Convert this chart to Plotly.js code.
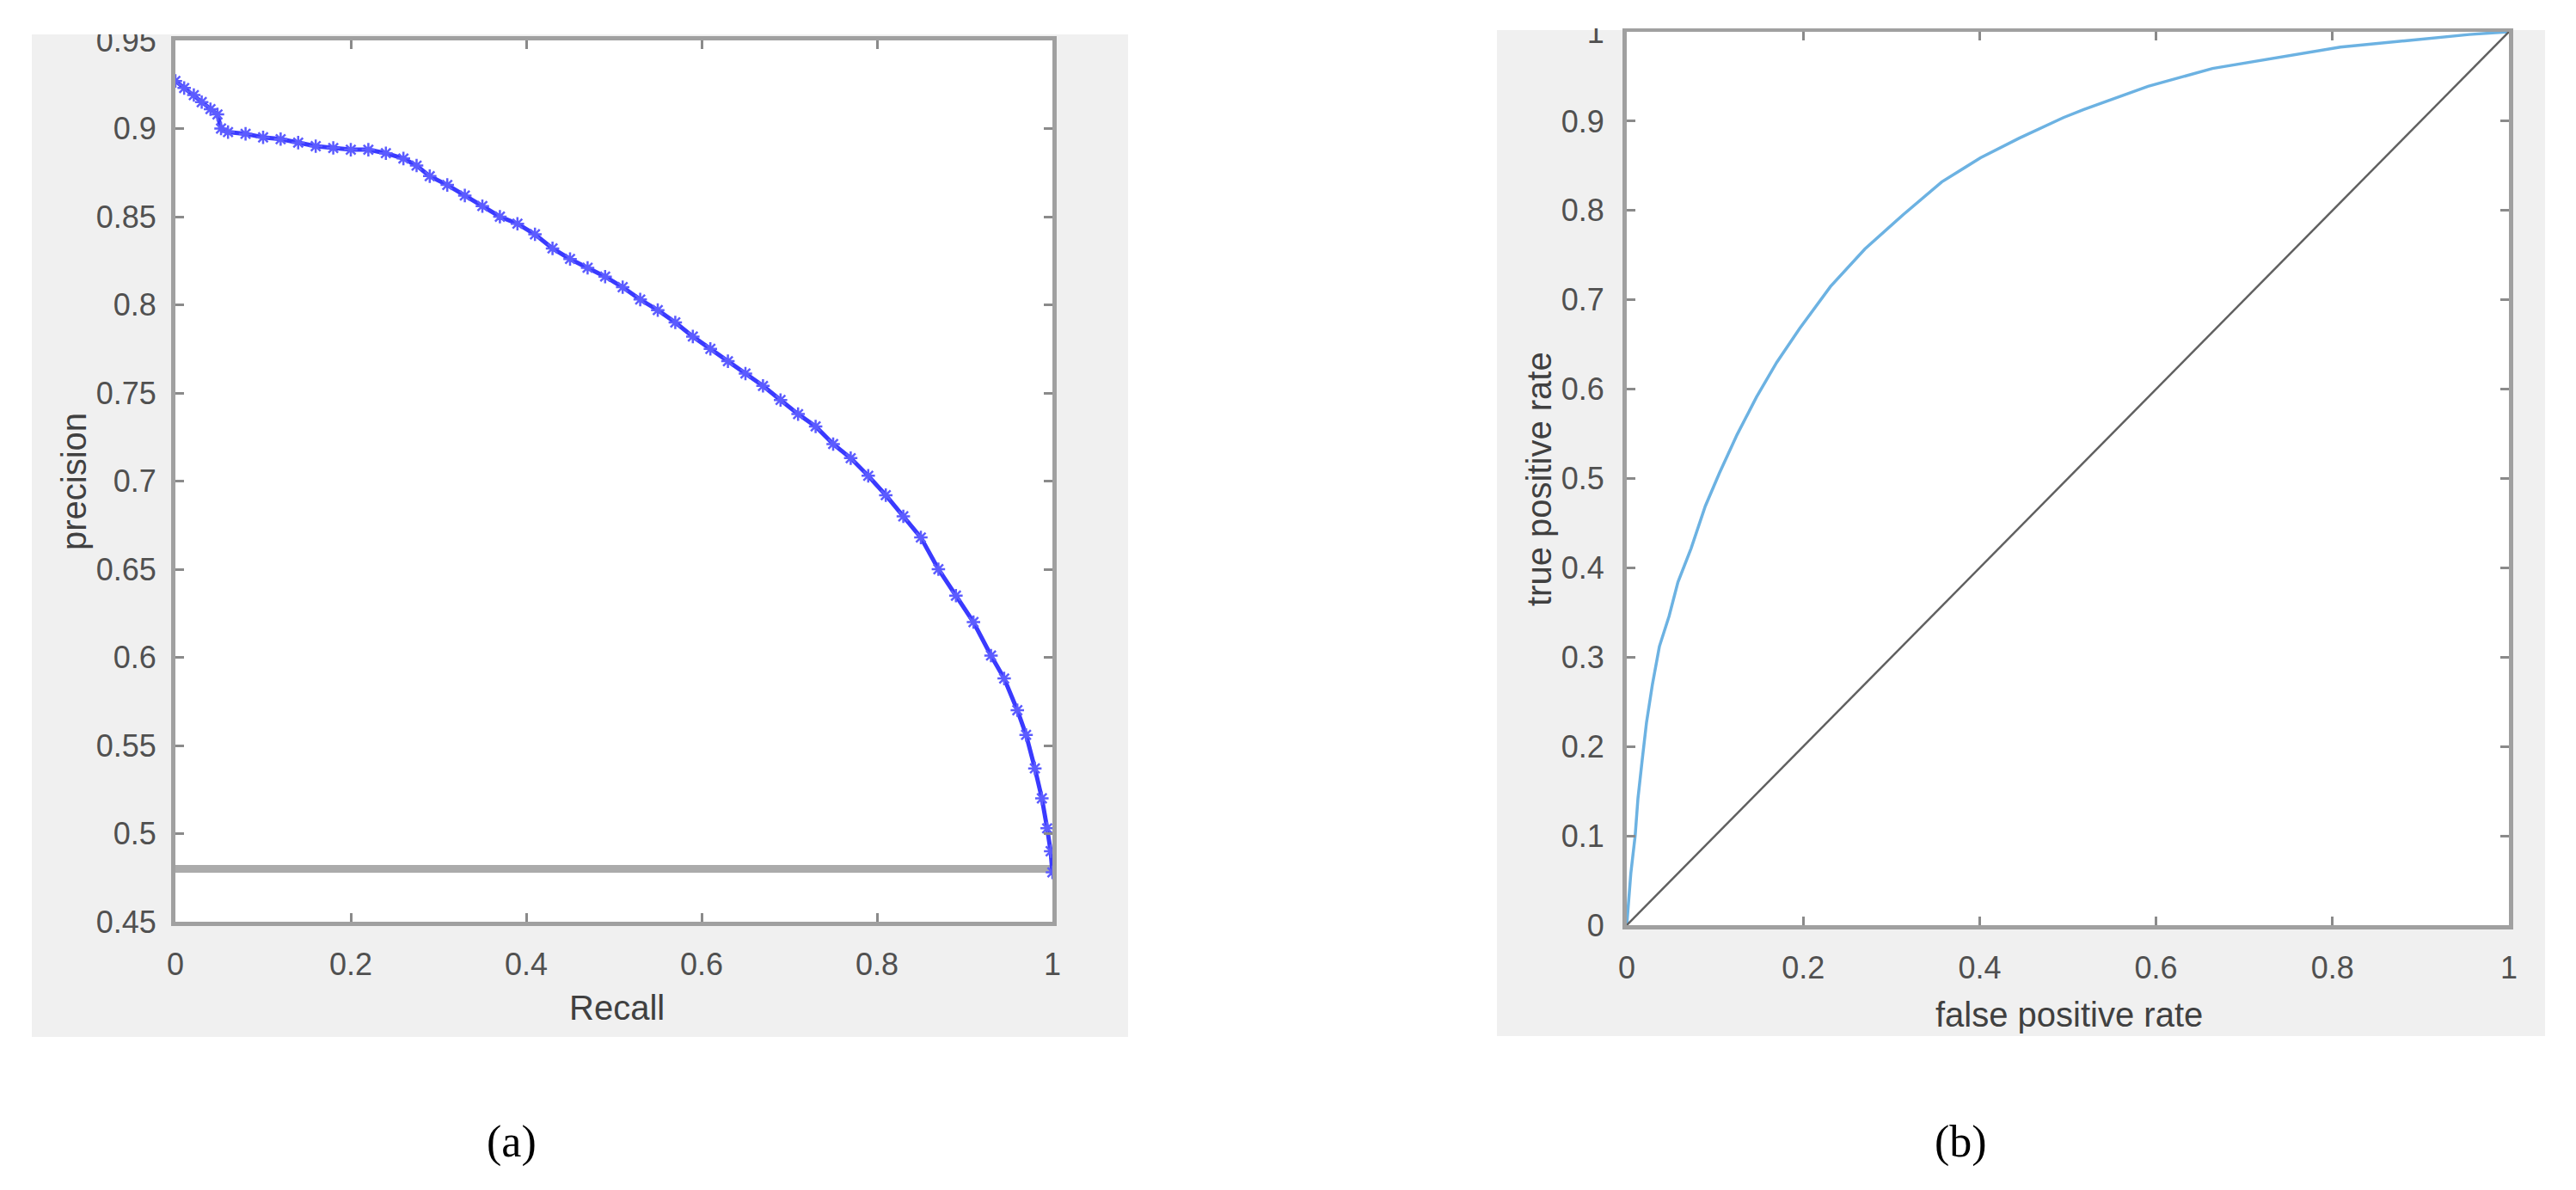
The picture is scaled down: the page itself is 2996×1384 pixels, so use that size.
<!DOCTYPE html>
<html>
<head>
<meta charset="utf-8">
<script src="https://cdn.plot.ly/plotly-3.0.1.min.js"></script>
<style>
  html, body { margin: 0; padding: 0; background: #ffffff; }
  #chart { width: 2996px; height: 1384px; }
</style>
</head>
<body>
<div id="chart"></div>
<script>
// ---------- (a) precision-recall data ----------
const recall = [0.000, 0.010, 0.021, 0.030, 0.040, 0.048, 0.052, 0.060, 0.080, 0.100,
  0.120, 0.140, 0.160, 0.180, 0.200, 0.220, 0.240, 0.260, 0.275, 0.290,
  0.310, 0.330, 0.350, 0.370, 0.390, 0.410, 0.430, 0.450, 0.470, 0.490,
  0.510, 0.530, 0.550, 0.570, 0.590, 0.610, 0.630, 0.650, 0.670, 0.690,
  0.710, 0.730, 0.750, 0.770, 0.790, 0.810, 0.830, 0.850, 0.870, 0.890,
  0.910, 0.930, 0.945, 0.960, 0.970, 0.980, 0.988, 0.994, 0.998, 1.000];
const precision = [0.927, 0.923, 0.919, 0.915, 0.911, 0.908, 0.900, 0.898, 0.897, 0.895,
  0.894, 0.892, 0.890, 0.889, 0.888, 0.888, 0.886, 0.883, 0.879, 0.873,
  0.868, 0.862, 0.856, 0.850, 0.846, 0.840, 0.832, 0.826, 0.821, 0.816,
  0.810, 0.803, 0.797, 0.790, 0.782, 0.775, 0.768, 0.761, 0.754, 0.746,
  0.738, 0.731, 0.721, 0.713, 0.703, 0.692, 0.680, 0.668, 0.650, 0.635,
  0.620, 0.601, 0.588, 0.570, 0.556, 0.537, 0.520, 0.503, 0.490, 0.478];
const baselineRecall = [0, 1];
const baselinePrecision = [0.48, 0.48];

const prXTicks = [0, 0.2, 0.4, 0.6, 0.8, 1];
const prXTickText = ['0', '0.2', '0.4', '0.6', '0.8', '1'];
const prYTicks = [0.45, 0.5, 0.55, 0.6, 0.65, 0.7, 0.75, 0.8, 0.85, 0.9, 0.95];
const prYTickText = ['0.45', '0.5', '0.55', '0.6', '0.65', '0.7', '0.75', '0.8', '0.85', '0.9', '0.95'];

// ---------- (b) ROC data ----------
const fpr = [0, 0.0046, 0.0095, 0.0127, 0.0175, 0.0224, 0.029, 0.037, 0.048, 0.058,
  0.073, 0.089, 0.105, 0.125, 0.147, 0.170, 0.196, 0.231, 0.270, 0.313,
  0.357, 0.401, 0.445, 0.495, 0.518, 0.591, 0.664, 0.737, 0.809, 0.882,
  0.955, 1];
const tpr = [0, 0.058, 0.100, 0.142, 0.185, 0.227, 0.269, 0.312, 0.346, 0.384,
  0.422, 0.469, 0.506, 0.549, 0.591, 0.630, 0.668, 0.715, 0.757, 0.795,
  0.832, 0.859, 0.881, 0.904, 0.913, 0.939, 0.959, 0.971, 0.983, 0.990,
  0.997, 1];
const chanceX = [0, 1];
const chanceY = [0, 1];

const rocXTicks = [0, 0.2, 0.4, 0.6, 0.8, 1];
const rocXTickText = ['0', '0.2', '0.4', '0.6', '0.8', '1'];
const rocYTicks = [0, 0.1, 0.2, 0.3, 0.4, 0.5, 0.6, 0.7, 0.8, 0.9, 1];
const rocYTickText = ['0', '0.1', '0.2', '0.3', '0.4', '0.5', '0.6', '0.7', '0.8', '0.9', '1'];

// ---------- layout helpers (pixel -> paper) ----------
const W = 2996, H = 1384;
const px = v => v / W;
const py = v => 1 - v / H;

const tickFont = { family: 'Liberation Sans, Arial, sans-serif', size: 36, color: '#505050' };
const titleFont = { family: 'Liberation Sans, Arial, sans-serif', size: 40, color: '#404040' };
const capFont = { family: 'Liberation Serif, Times New Roman, serif', size: 52, color: '#000000' };

function axisStyle(extra) {
  return Object.assign({
    showgrid: false, zeroline: false,
    showline: true, linecolor: '#a0a0a0', linewidth: 5, mirror: 'ticks',
    ticks: 'inside', ticklen: 10, tickwidth: 3, tickcolor: '#8a8a8a',
    tickfont: tickFont, tickmode: 'array', fixedrange: true
  }, extra);
}

const traces = [
  { x: baselineRecall, y: baselinePrecision, xaxis: 'x', yaxis: 'y', mode: 'lines',
    line: { color: '#ababab', width: 9 }, hoverinfo: 'skip' },
  { x: recall, y: precision, xaxis: 'x', yaxis: 'y', mode: 'lines+markers',
    line: { color: '#3a3aff', width: 5 },
    marker: { symbol: 'asterisk-open', size: 13, color: '#5c5cff', line: { color: '#5c5cff', width: 2.5 } } },
  { x: fpr, y: tpr, xaxis: 'x2', yaxis: 'y2', mode: 'lines',
    line: { color: '#6cb2e2', width: 3.5 } },
  { x: chanceX, y: chanceY, xaxis: 'x2', yaxis: 'y2', mode: 'lines',
    line: { color: '#606060', width: 2.5 } }
];

const layout = {
  width: W, height: H,
  margin: { l: 0, r: 0, t: 0, b: 0, pad: 0 },
  paper_bgcolor: '#ffffff', plot_bgcolor: '#ffffff',
  showlegend: false,
  xaxis: axisStyle({ domain: [px(204), px(1224)], range: [0, 1], anchor: 'y',
    tickvals: prXTicks, ticktext: prXTickText, ticklabelstandoff: 14 }),
  yaxis: axisStyle({ domain: [py(1072), py(47)], range: [0.45, 0.95], anchor: 'x',
    tickvals: prYTicks, ticktext: prYTickText, ticklabelstandoff: 10 }),
  xaxis2: axisStyle({ domain: [px(1892), px(2918)], range: [0, 1], anchor: 'y2',
    tickvals: rocXTicks, ticktext: rocXTickText, ticklabelstandoff: 14 }),
  yaxis2: axisStyle({ domain: [py(1076), py(37)], range: [0, 1], anchor: 'x2',
    tickvals: rocYTicks, ticktext: rocYTickText, ticklabelstandoff: 14 }),
  shapes: [
    { type: 'rect', xref: 'paper', yref: 'paper', x0: px(37), x1: px(1312), y0: py(1206), y1: py(40),
      fillcolor: '#f0f0f0', line: { width: 0 }, layer: 'below' },
    { type: 'rect', xref: 'paper', yref: 'paper', x0: px(1741), x1: px(2960), y0: py(1205), y1: py(35),
      fillcolor: '#f0f0f0', line: { width: 0 }, layer: 'below' },
    { type: 'rect', xref: 'x domain', yref: 'y domain', x0: 0, x1: 1, y0: 0, y1: 1,
      fillcolor: '#ffffff', line: { width: 0 }, layer: 'below' },
    { type: 'rect', xref: 'x2 domain', yref: 'y2 domain', x0: 0, x1: 1, y0: 0, y1: 1,
      fillcolor: '#ffffff', line: { width: 0 }, layer: 'below' },
    { type: 'rect', xref: 'paper', yref: 'paper', x0: 0, x1: px(1500), y0: py(40), y1: 1,
      fillcolor: '#ffffff', line: { width: 0 }, layer: 'above' },
    { type: 'rect', xref: 'paper', yref: 'paper', x0: px(1500), x1: 1, y0: py(33), y1: 1,
      fillcolor: '#ffffff', line: { width: 0 }, layer: 'above' }
  ],
  annotations: [
    { text: 'precision', xref: 'paper', yref: 'paper', x: px(86), y: py(560), textangle: -90,
      showarrow: false, xanchor: 'center', yanchor: 'middle', font: titleFont },
    { text: 'Recall', xref: 'paper', yref: 'paper', x: px(717), y: py(1172),
      showarrow: false, xanchor: 'center', yanchor: 'middle', font: titleFont },
    { text: 'true positive rate', xref: 'paper', yref: 'paper', x: px(1790), y: py(557), textangle: -90,
      showarrow: false, xanchor: 'center', yanchor: 'middle', font: titleFont },
    { text: 'false positive rate', xref: 'paper', yref: 'paper', x: px(2406), y: py(1180),
      showarrow: false, xanchor: 'center', yanchor: 'middle', font: titleFont },
    { text: '(a)', xref: 'paper', yref: 'paper', x: px(595), y: py(1328),
      showarrow: false, xanchor: 'center', yanchor: 'middle', font: capFont },
    { text: '(b)', xref: 'paper', yref: 'paper', x: px(2280), y: py(1328),
      showarrow: false, xanchor: 'center', yanchor: 'middle', font: capFont }
  ]
};

Plotly.newPlot('chart', traces, layout, { displayModeBar: false, staticPlot: true });
</script>
</body>
</html>
